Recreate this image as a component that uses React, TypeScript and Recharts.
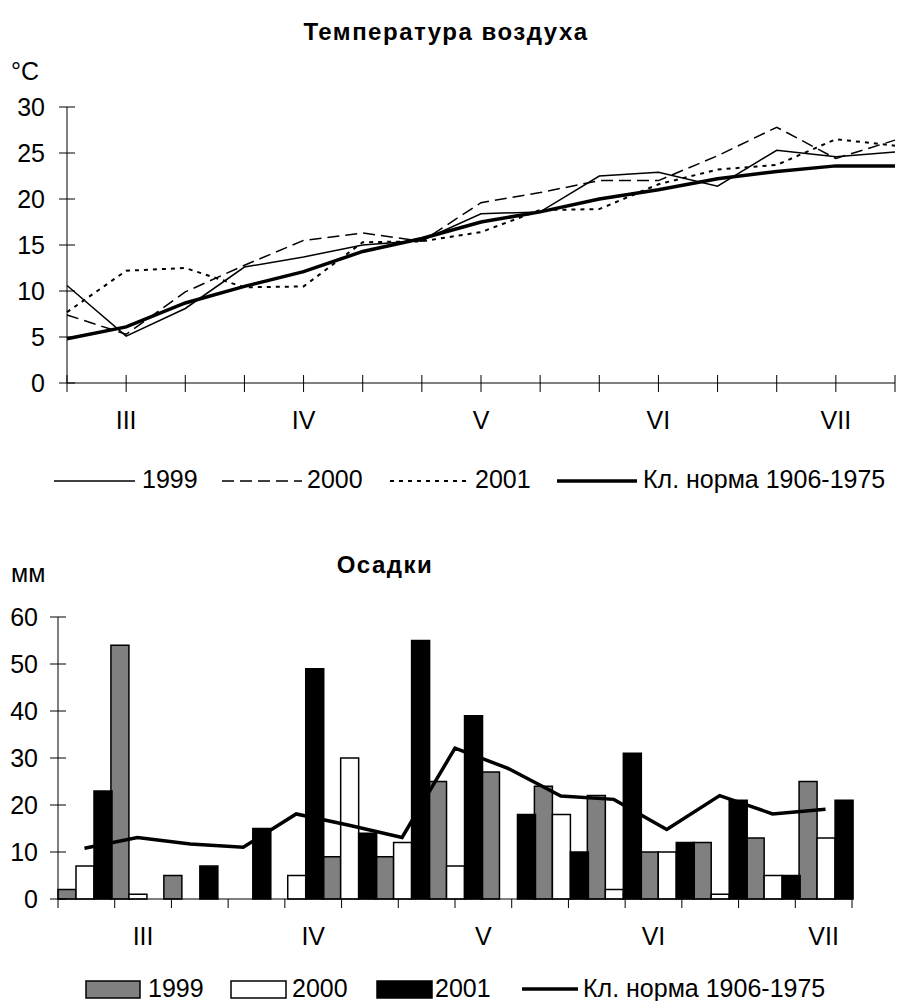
import { LineChart, Line, XAxis, YAxis, ComposedChart, Bar } from "recharts";

const FONT = "'Liberation Sans', Arial, sans-serif";

// decades of March..July, month label shown under the 2nd decade
const decades = [
  "III-1", "III-2", "III-3",
  "IV-1", "IV-2", "IV-3",
  "V-1", "V-2", "V-3",
  "VI-1", "VI-2", "VI-3",
  "VII-1", "VII-2", "VII-3",
];
const yearLabels = ["1999", "2000", "2001"];
const normLabel = "Кл. норма 1906-1975";

const tempTicks = [0, 5, 10, 15, 20, 25, 30];
const precipTicks = [0, 10, 20, 30, 40, 50, 60];

// air temperature, °C
const temp1999 = [10.6, 5.1, 8.1, 12.6, 13.7, 15.0, 15.5, 18.4, 18.6, 22.5, 22.9, 21.4, 25.3, 24.6, 25.1];
const temp2000 = [7.4, 5.3, 9.9, 12.8, 15.5, 16.3, 15.4, 19.6, 20.7, 22.0, 22.0, 24.7, 27.8, 24.4, 26.4];
const temp2001 = [7.7, 12.2, 12.5, 10.4, 10.5, 15.3, 15.4, 16.4, 18.8, 18.9, 21.6, 23.2, 23.7, 26.5, 25.8];
const tempNorm = [4.8, 6.1, 8.7, 10.5, 12.1, 14.3, 15.7, 17.5, 18.6, 20.0, 21.0, 22.2, 23.0, 23.6, 23.6];

// precipitation, mm
const precip1999 = [2, 54, 5, 0, 0, 9, 9, 25, 27, 24, 22, 10, 12, 13, 25];
const precip2000 = [7, 1, 0, 0, 5, 30, 12, 7, 0, 18, 2, 10, 1, 5, 13];
const precip2001 = [23, 0, 7, 15, 49, 14, 55, 39, 18, 10, 31, 12, 21, 5, 21];
const precipNorm = [10.8, 13.1, 11.7, 11.0, 18.1, 15.7, 13.1, 32.1, 27.8, 21.9, 21.2, 14.8, 22.0, 18.1, 19.1];

const tempRows = decades.map((decade, i) => ({
  decade,
  y1999: temp1999[i],
  y2000: temp2000[i],
  y2001: temp2001[i],
  norm: tempNorm[i],
}));

const precipRows = decades.map((decade, i) => ({
  decade,
  y1999: precip1999[i],
  y2000: precip2000[i],
  y2001: precip2001[i],
  norm: precipNorm[i],
}));

const monthOf = (d: string) => d.split("-")[0];

// edges of the decade bands + the middle of every month's 2nd decade
const precipXTicks = [
  ...decades.map((_, i) => i),
  decades.length,
  ...decades.map((d, i) => (d.endsWith("-2") ? i + 0.5 : -1)).filter((v) => v >= 0),
];

const TempXTick = (props: any) => {
  const { x, y, payload } = props;
  const v = String(payload.value);
  return (
    <g>
      <line x1={x} x2={x} y1={y - 8} y2={y + 9} stroke="#000" />
      {v.endsWith("-2") && (
        <text x={x} y={y + 46} textAnchor="middle" fontSize={25} fontFamily={FONT} fill="#000">
          {monthOf(v)}
        </text>
      )}
    </g>
  );
};

const PrecipXTick = (props: any) => {
  const { x, y, payload } = props;
  const v = Number(payload.value);
  if (Number.isInteger(v)) {
    return <line x1={x} x2={x} y1={y} y2={y + 9} stroke="#000" />;
  }
  return (
    <text x={x} y={y + 46} textAnchor="middle" fontSize={25} fontFamily={FONT} fill="#000">
      {monthOf(decades[Math.floor(v)])}
    </text>
  );
};

const makeYTick = (gap: number) => (props: any) => {
  const { x, y, payload } = props;
  return (
    <g>
      <line x1={x - 8} x2={x + 8} y1={y} y2={y} stroke="#000" />
      <text x={x - gap} y={y + 9} textAnchor="end" fontSize={25} fontFamily={FONT} fill="#000">
        {payload.value}
      </text>
    </g>
  );
};

const textStyle = { fontFamily: FONT, fill: "#000" };

export default function App() {
  return (
    <div
      style={{
        position: "absolute",
        left: 0,
        top: 0,
        width: 897,
        height: 1001,
        background: "#fff",
        overflow: "hidden",
      }}
    >
      {/* TEMPERATURE */}
      <div style={{ position: "absolute", left: 0, top: 0 }}>
        <LineChart
          width={897}
          height={445}
          data={tempRows}
          margin={{ top: 107, right: 2, bottom: 12, left: 0 }}
        >
          <XAxis
            dataKey="decade"
            interval={0}
            height={50}
            tickSize={0}
            tickMargin={0}
            tickLine={false}
            axisLine={{ stroke: "#000" }}
            tick={TempXTick}
          />
          <YAxis
            domain={[0, 30]}
            ticks={tempTicks}
            interval={0}
            width={67}
            tickSize={0}
            tickMargin={0}
            tickLine={false}
            axisLine={{ stroke: "#000" }}
            tick={makeYTick(22)}
          />
          <Line dataKey="y1999" stroke="#000" strokeWidth={1.5} dot={false} activeDot={false} isAnimationActive={false} />
          <Line dataKey="y2000" stroke="#000" strokeWidth={1.5} strokeDasharray="12 6" dot={false} activeDot={false} isAnimationActive={false} />
          <Line dataKey="y2001" stroke="#000" strokeWidth={2} strokeDasharray="4 5" dot={false} activeDot={false} isAnimationActive={false} />
          <Line dataKey="norm" stroke="#000" strokeWidth={3.5} dot={false} activeDot={false} isAnimationActive={false} />
        </LineChart>
      </div>

      {/* PRECIPITATION */}
      <div style={{ position: "absolute", left: 0, top: 500 }}>
        <ComposedChart
          width={897}
          height={460}
          data={precipRows}
          barCategoryGap={0}
          barGap={0}
          margin={{ top: 117, right: 45, bottom: 11, left: 0 }}
        >
          <XAxis xAxisId="cat" dataKey="decade" hide height={0} />
          <XAxis
            xAxisId="num"
            type="number"
            domain={[0, decades.length]}
            allowDataOverflow
            ticks={precipXTicks}
            interval={0}
            height={50}
            tickSize={0}
            tickMargin={0}
            tickLine={false}
            axisLine={{ stroke: "#000" }}
            tick={PrecipXTick}
          />
          <YAxis
            domain={[0, 60]}
            ticks={precipTicks}
            interval={0}
            width={58}
            tickSize={0}
            tickMargin={0}
            tickLine={false}
            axisLine={{ stroke: "#000" }}
            tick={makeYTick(20)}
          />
          <Bar xAxisId="cat" dataKey="y1999" fill="#808080" stroke="#000" strokeWidth={1.5} isAnimationActive={false} />
          <Bar xAxisId="cat" dataKey="y2000" fill="#fff" stroke="#000" strokeWidth={1.5} isAnimationActive={false} />
          <Bar xAxisId="cat" dataKey="y2001" fill="#000" stroke="#000" strokeWidth={1.5} isAnimationActive={false} />
          <Line xAxisId="cat" dataKey="norm" stroke="#000" strokeWidth={3.5} dot={false} activeDot={false} isAnimationActive={false} />
        </ComposedChart>
      </div>

      {/* TITLES, UNITS, LEGENDS */}
      <svg
        width={897}
        height={1001}
        style={{ position: "absolute", left: 0, top: 0, pointerEvents: "none" }}
      >
        <text x={446} y={40} textAnchor="middle" fontSize={24} fontWeight="bold" letterSpacing={1.5} style={textStyle}>
          Температура воздуха
        </text>
        <text x={11} y={80} fontSize={25} style={textStyle}>
          °C
        </text>

        <line x1={54} x2={135} y1={481} y2={481} stroke="#000" strokeWidth={1.5} />
        <text x={142} y={488} fontSize={25} style={textStyle}>{yearLabels[0]}</text>
        <line x1={222} x2={302} y1={481} y2={481} stroke="#000" strokeWidth={1.5} strokeDasharray="12 6" />
        <text x={307} y={488} fontSize={25} style={textStyle}>{yearLabels[1]}</text>
        <line x1={390} x2={470} y1={481} y2={481} stroke="#000" strokeWidth={2} strokeDasharray="4 5" />
        <text x={475} y={488} fontSize={25} style={textStyle}>{yearLabels[2]}</text>
        <line x1={557} x2={637} y1={481} y2={481} stroke="#000" strokeWidth={3.5} />
        <text x={643} y={488} fontSize={25} style={textStyle}>{normLabel}</text>

        <text x={385} y={573} textAnchor="middle" fontSize={24} fontWeight="bold" letterSpacing={1.5} style={textStyle}>
          Осадки
        </text>
        <text x={11} y={582} fontSize={25} style={textStyle}>
          мм
        </text>

        <rect x={86} y={981} width={54} height={17} fill="#808080" stroke="#000" strokeWidth={1.5} />
        <text x={148} y={997} fontSize={25} style={textStyle}>{yearLabels[0]}</text>
        <rect x={231} y={981} width={55} height={17} fill="#fff" stroke="#000" strokeWidth={1.5} />
        <text x={292} y={997} fontSize={25} style={textStyle}>{yearLabels[1]}</text>
        <rect x={377} y={981} width={55} height={17} fill="#000" stroke="#000" strokeWidth={1.5} />
        <text x={435} y={997} fontSize={25} style={textStyle}>{yearLabels[2]}</text>
        <line x1={522} x2={578} y1={989} y2={989} stroke="#000" strokeWidth={3.5} />
        <text x={583} y={997} fontSize={25} style={textStyle}>{normLabel}</text>
      </svg>
    </div>
  );
}
